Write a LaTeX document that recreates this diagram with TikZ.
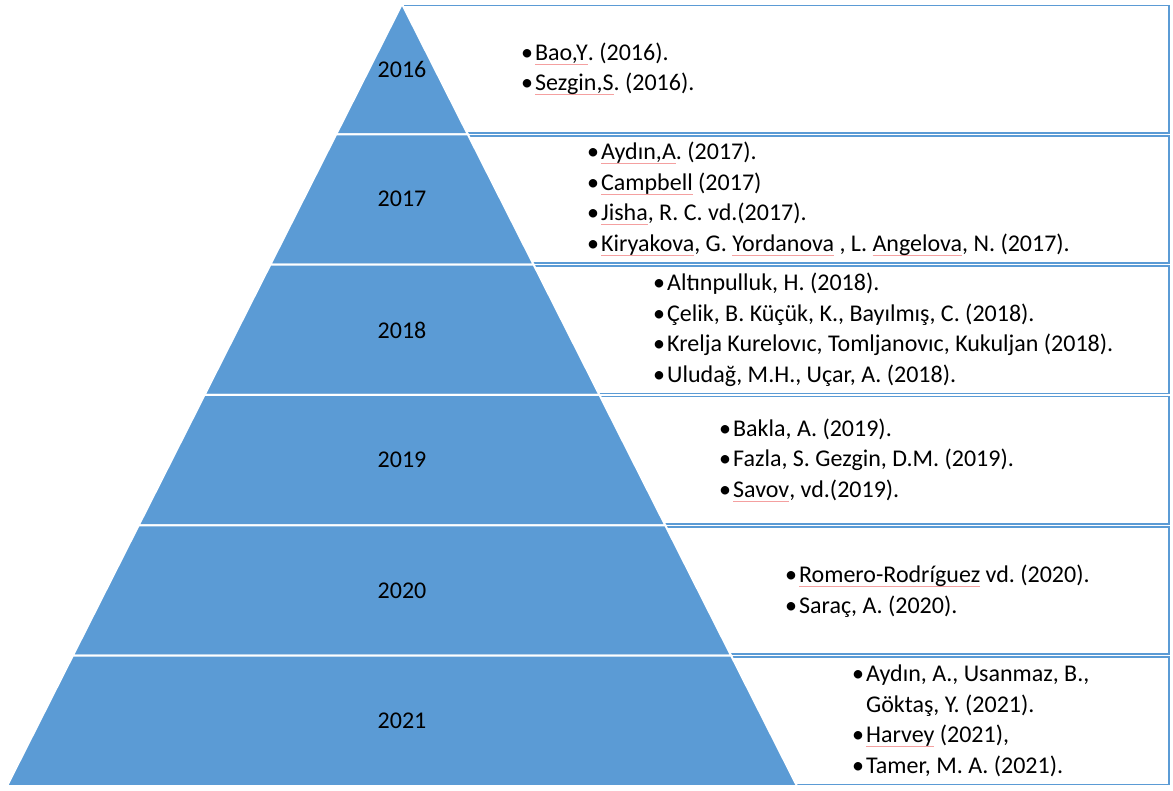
\documentclass[tikz,border=0pt]{standalone}
\usepackage{fontspec}
\setmainfont{Carlito}
\definecolor{layerblue}{HTML}{5B9BD5}
\definecolor{spellred}{HTML}{F4A0A0}
% thin red underline for flagged words
\newsavebox\spellbox
\newcommand\spell[1]{\sbox\spellbox{#1}\rlap{\textcolor{spellred}{\rule[-0.16em]{\wd\spellbox}{0.6pt}}}\usebox\spellbox}
\newcommand\bul{\textbullet\hspace{2pt}}
\newcommand\hang{\hphantom{\bul}}
\frenchspacing
\begin{document}
\begin{tikzpicture}[x=1pt,y=-1pt,
  listbox/.style={draw=layerblue,line width=1.6pt,fill=white},
  layer/.style={fill=layerblue,draw=white,line width=2pt,line join=miter},
  year/.style={font=\fontsize{24}{28}\selectfont,text=black,inner sep=0pt},
  refs/.style={font=\fontsize{24}{30.5}\selectfont,text=black,align=left,anchor=west,inner sep=0pt}]
\useasboundingbox (0,0) rectangle (1173,791);

% reference boxes, tucked behind the pyramid
\foreach \i in {0,...,5}{
  \pgfmathsetmacro\yt{4+\i*782/6}
  \pgfmathsetmacro\yb{4+(\i+1)*782/6}
  \draw[listbox] (402,\yt+1.5) rectangle (1169,\yb-1.5);
}

% pyramid layers
\foreach \i in {0,...,5}{
  \pgfmathsetmacro\yt{4+\i*782/6}
  \pgfmathsetmacro\yb{4+(\i+1)*782/6}
  \pgfmathsetmacro\wt{(\yt-4)/782*395}
  \pgfmathsetmacro\wb{(\yb-4)/782*395}
  \fill[layer] (402-\wt,\yt) -- (402+\wt,\yt) -- (402+\wb,\yb) -- (402-\wb,\yb) -- cycle;
}

% year labels
\node[year] (y2016) at (402,69)  {2016};
\node[year] (y2017) at (402,199) {2017};
\node[year] (y2018) at (402,330) {2018};
\node[year] (y2019) at (402,460) {2019};
\node[year] (y2020) at (402,591) {2020};
\node[year] (y2021) at (402,721) {2021};

% references per year
\node[refs] (r2016) at (521,69) {\bul\spell{Bao,Y}. (2016).\\\bul\spell{Sezgin,S}. (2016).};
\node[refs] (r2017) at (587,199) {\bul\spell{Aydın,A}. (2017).\\\bul\spell{Campbell} (2017)\\\bul\spell{Jisha}, R. C. vd.(2017).\\\bul\spell{Kiryakova}, G. \spell{Yordanova} , L. \spell{Angelova}, N. (2017).};
\node[refs] (r2018) at (653,330) {\bul Altınpulluk, H. (2018).\\\bul Çelik, B. Küçük, K., Bayılmış, C. (2018).\\\bul Krelja Kurelovıc, Tomljanovıc, Kukuljan (2018).\\\bul Uludağ, M.H., Uçar, A. (2018).};
\node[refs] (r2019) at (719,460) {\bul Bakla, A. (2019).\\\bul Fazla, S. Gezgin, D.M. (2019).\\\bul\spell{Savov}, vd.(2019).};
\node[refs] (r2020) at (785,591) {\bul\spell{Romero-Rodríguez} vd. (2020).\\\bul Saraç, A. (2020).};
\node[refs] (r2021) at (852,721) {\bul Aydın, A., Usanmaz, B.,\\\hang Göktaş, Y. (2021).\\\bul\spell{Harvey} (2021),\\\bul Tamer, M. A. (2021).};
\end{tikzpicture}
\end{document}
